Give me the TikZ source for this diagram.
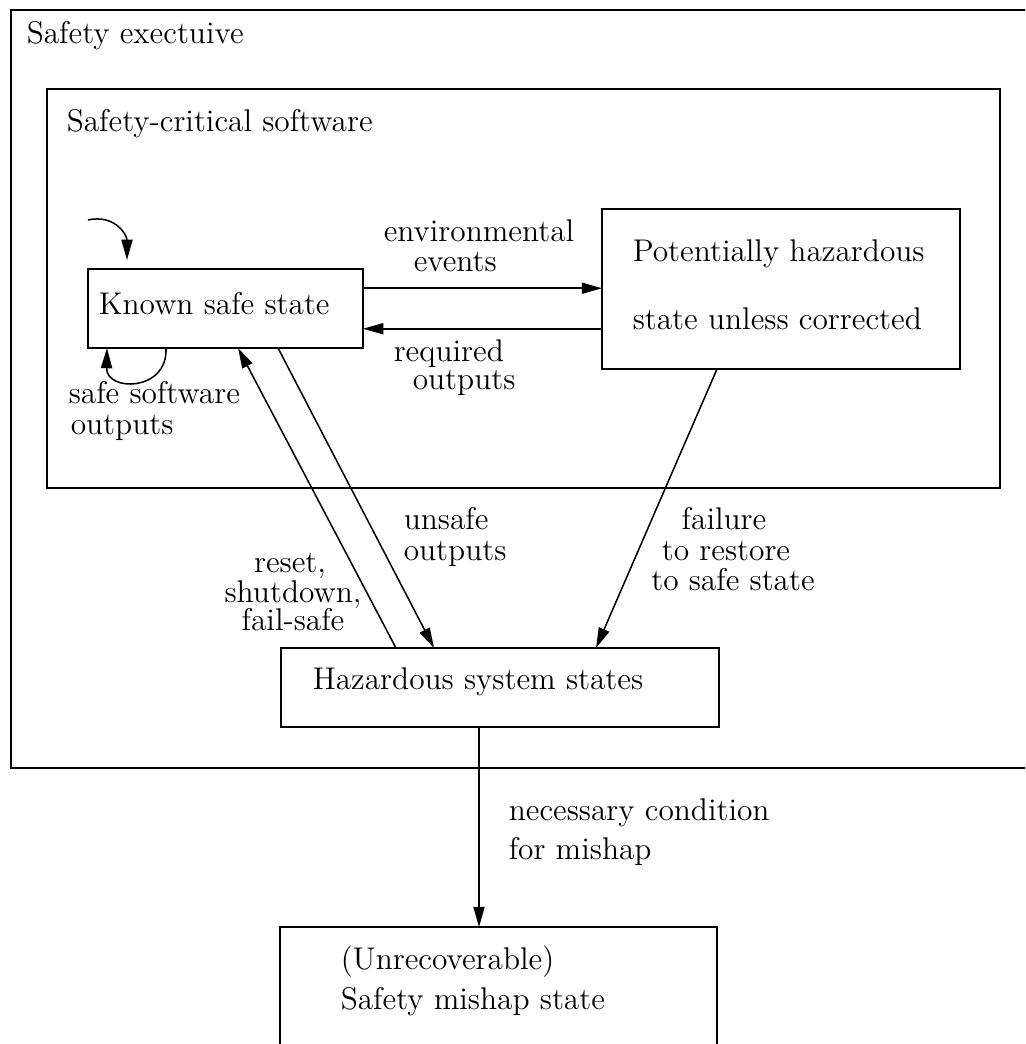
\documentclass[tikz,border=0pt]{standalone}
\usetikzlibrary{arrows.meta,calc,fit}
\begin{document}
\begin{tikzpicture}[x=0.395pt,y=-0.395pt,
  line width=0.6pt,
  box/.style={draw,line width=0.6pt,inner sep=0pt,outer sep=0pt},
  lbl/.style={inner sep=0pt,anchor=base west,font=\fontsize{12.4}{12.4}\selectfont},
  lblc/.style={lbl,anchor=base},
  arr/.style={line width=0.6pt,-{Triangle[length=8pt,width=4.4pt]}}]
\useasboundingbox (0,0) rectangle (1025,1044);
\clip (0,0) rectangle (1025,1044);

% enclosing regions
\node[box,fit={(11,10) (1040,768)}] (exec) {};
\node[lbl] (execlbl) at (26,44) {Safety exectuive};
\node[box,fit={(47,89) (1000,488)}] (soft) {};
\node[lbl] (softlbl) at (66,132) {Safety-critical software};

% states
\node[box,fit={(88,269) (363,348)}] (known) {};
\node[lbl] (knownlbl) at (98,315) {Known safe state};

\node[box,fit={(602,209) (960,369)}] (pot) {};
\node[lbl] (potlbl1) at (632,262) {Potentially hazardous};
\node[lbl] (potlbl2) at (632,330) {state unless corrected};

\node[box,fit={(281,648) (719,727)}] (haz) {};
\node[lbl] (hazlbl) at (312,689) {Hazardous system states};

\node[box,fit={(280,927) (717,1070)}] (mishap) {};
\node[lbl] (mishlbl1) at (340,969) {(Unrecoverable)};
\node[lbl] (mishlbl2) at (340,1009) {Safety mishap state};

% transitions between the safe and the hazardous software states
\draw[arr] ([yshift=8pt]known.east) -- ([yshift=8pt]known.east -| pot.west);
\node[lbl] (envlbl1) at (383,242) {environmental};
\node[lbl] (envlbl2) at (413,272) {events};

\draw[arr] ([yshift=-8pt]known.east -| pot.west) -- ([yshift=-8pt]known.east);
\node[lbl] (reqlbl1) at (393,362) {required};
\node[lbl] (reqlbl2) at (412,390) {outputs};

% initial entry into the safe state
\coordinate (entry) at (88,220);
\draw[arr] (entry) .. controls (115,214) and (127,235) .. ($(known.north west)+(39,-9)$);

% self loop
\draw[arr] ($(known.south west)+(78,0)$) .. controls ($(known.south west)+(80,44)$) and ($(known.south west)+(18,44)$) .. ($(known.south west)+(19,0)$);
\node[lbl] (looplbl1) at (68,404) {safe software};
\node[lbl] (looplbl2) at (70,434) {outputs};

% to and from the hazardous system states
\draw[arr] ($(known.south west)+(190,0)$) -- ($(haz.north west)+(153,0)$);
\node[lbl] (unsafelbl1) at (403,529) {unsafe};
\node[lbl] (unsafelbl2) at (403,560) {outputs};

\draw[arr] ($(haz.north west)+(115,0)$) -- ($(known.south west)+(150,0)$);
\node[lblc] (resetlbl1) at (290,572) {reset,};
\node[lblc] (resetlbl2) at (293,602) {shutdown,};
\node[lblc] (resetlbl3) at (293,630) {fail-safe};

\draw[arr] ($(pot.south west)+(115,0)$) -- ($(haz.north west)+(315,0)$);
\node[lblc] (faillbl1) at (724,529) {failure};
\node[lblc] (faillbl2) at (726,560) {to restore};
\node[lblc] (faillbl3) at (733,590) {to safe state};

% hazard to mishap
\coordinate (hazout) at ($(haz.south west)+(198,0)$);
\draw[arr] (hazout) -- (hazout |- mishap.north);
\node[lbl] (neclbl1) at (508,820) {necessary condition};
\node[lbl] (neclbl2) at (508,859) {for mishap};
\end{tikzpicture}
\end{document}
